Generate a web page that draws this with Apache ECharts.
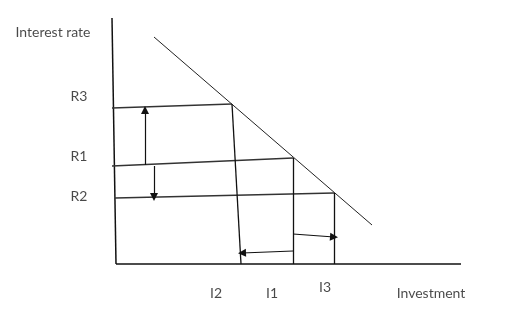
<!DOCTYPE html>
<html>
<head>
<meta charset="utf-8">
<script src="https://cdn.jsdelivr.net/npm/echarts@6/dist/echarts.min.js"></script>
<style>html,body{margin:0;padding:0;background:#fff}#c{width:518px;height:319px}</style>
</head>
<body>
<div id="c"></div>
<script>
// Data space: origin = axis corner; units
const yAxisLine = [[-4, 246], [0, 0]];
const xAxisLine = [[0, 0], [345, 0]];
const demandCurve = [[38, 227], [256, 39]];
const rateLines = [
  [[-4, 156], [116, 160]],   // R3
  [[-4, 98], [177, 106]],    // R1
  [[-1, 66], [218, 71]]      // R2
];
const investLines = [
  [[116, 160], [125, 0]],    // I2
  [[177, 106], [177, 0]],    // I1
  [[218, 71], [218, 0]]      // I3
];
const arrowLines = [
  [[29, 99], [29, 154]],     // up R1 -> R3
  [[38, 98], [38, 67]],      // down R1 -> R2
  [[177, 13], [126, 11]],    // left I1 -> I2
  [[177, 30], [218, 27]]     // right I1 -> I3
];
const labelNames = ['Interest rate', 'R3', 'R1', 'R2', 'I2', 'I1', 'I3', 'Investment'];
const labelX = [-63, -37, -37, -37, 100, 156, 209, 315];
const labelY = [232, 168, 108, 68, -29, -29, -23, -29];

const FONT = 'Lato';
const chart = echarts.init(document.getElementById('c'), null, {renderer: 'canvas'});

function seg(list) { return list.map(c => ({coords: c})); }

chart.setOption({
  animation: false,
  backgroundColor: '#ffffff',
  grid: {left: 0, right: 0, top: 0, bottom: 0},
  xAxis: {type: 'value', min: -116, max: 402, show: false},
  yAxis: {type: 'value', min: -55, max: 264, show: false},
  series: [
    {
      type: 'lines', coordinateSystem: 'cartesian2d', silent: true,
      lineStyle: {color: '#111', width: 1.5, opacity: 1},
      data: seg([yAxisLine, xAxisLine])
    },
    {
      type: 'lines', coordinateSystem: 'cartesian2d', silent: true,
      lineStyle: {color: '#222', width: 1, opacity: 1},
      data: seg([demandCurve])
    },
    {
      type: 'lines', coordinateSystem: 'cartesian2d', silent: true,
      lineStyle: {color: '#333', width: 1.3, opacity: 1},
      data: seg(rateLines)
    },
    {
      type: 'lines', coordinateSystem: 'cartesian2d', silent: true,
      lineStyle: {color: '#111', width: 1.3, opacity: 1},
      data: seg(investLines)
    },
    {
      type: 'lines', coordinateSystem: 'cartesian2d', silent: true,
      symbol: ['none', 'triangle'], symbolSize: 8,
      lineStyle: {color: '#111', width: 1.2, opacity: 1},
      data: seg(arrowLines)
    },
    {
      type: 'scatter', silent: true,
      symbolSize: 0,
      label: {
        show: true, position: 'inside',
        formatter: p => p.name,
        fontFamily: FONT, fontSize: 14, color: '#1a1a1a'
      },
      data: labelNames.map((n, i) => ({name: n, value: [labelX[i], labelY[i]]}))
    }
  ]
});
</script>
</body>
</html>
